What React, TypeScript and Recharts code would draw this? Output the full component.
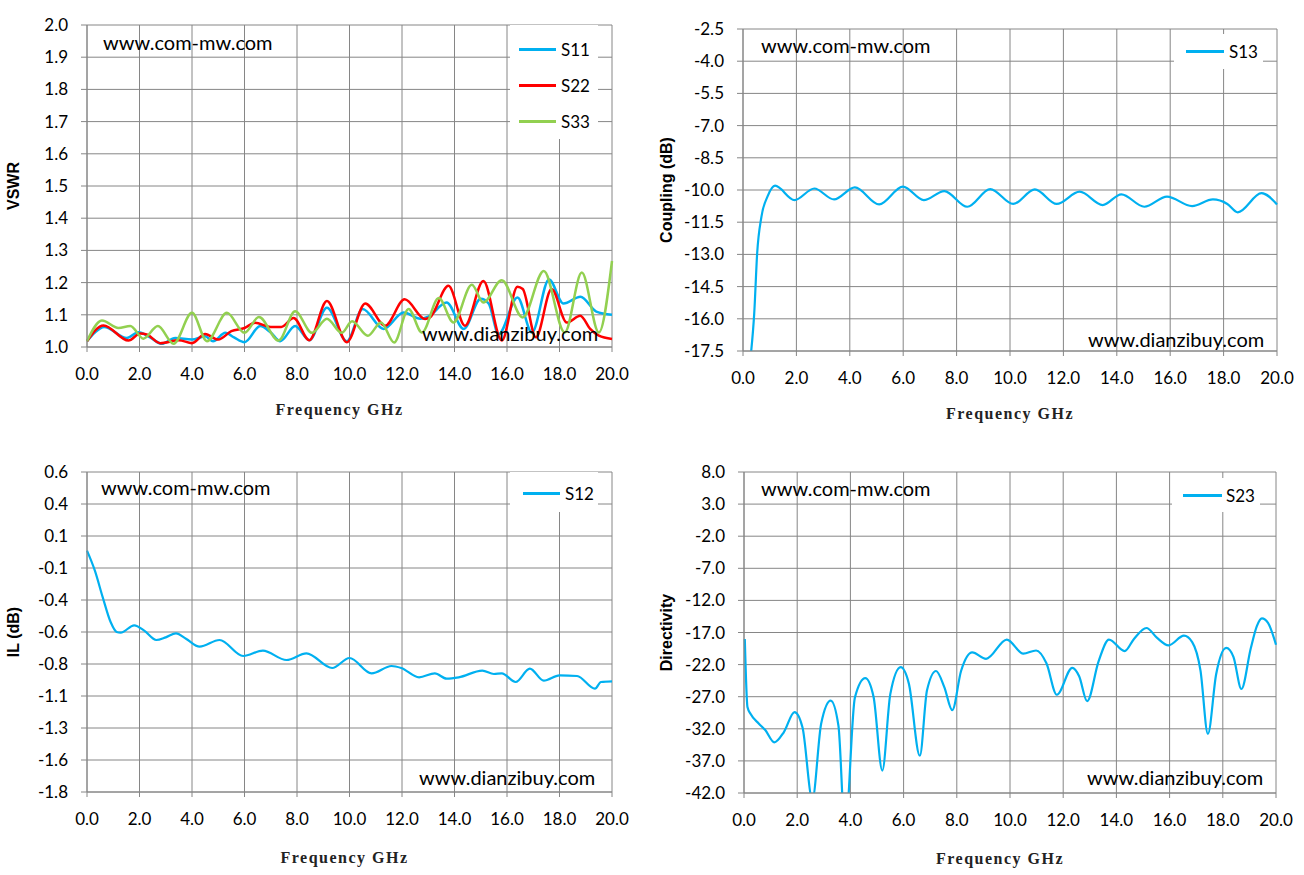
import React from "react";
import { LineChart, Line, XAxis, YAxis, CartesianGrid, Legend, Label } from "recharts";

const FONT = "Lato, 'Liberation Sans', Arial, sans-serif";
const GRID = "#868686";
const BLUE = "#00B0F0";
const RED = "#FF0000";
const GREEN = "#92D050";

// shared axis ticks
const freqTicks = [0, 2, 4, 6, 8, 10, 12, 14, 16, 18, 20];
const vswrTicks = [1.0, 1.1, 1.2, 1.3, 1.4, 1.5, 1.6, 1.7, 1.8, 1.9, 2.0];
const couplingTicks = [-17.5, -16, -14.5, -13, -11.5, -10, -8.5, -7, -5.5, -4, -2.5];
const ilTicks = [-1.8, -1.56, -1.32, -1.08, -0.84, -0.6, -0.36, -0.12, 0.12, 0.36, 0.6];
const dirTicks = [-42, -37, -32, -27, -22, -17, -12, -7, -2, 3, 8];

// S11 VSWR
const s11Freq = [0, 0.3, 0.65, 1.52, 1.96, 2.4, 2.85, 3.36, 4.0, 4.5, 4.8, 5.27, 5.6, 6.0, 6.6, 7.0, 7.36, 7.93, 8.47, 9.14, 9.9, 10.5, 11.3, 12.06, 12.7, 13.0, 13.7, 14.35, 15.0, 15.3, 15.68, 16.4, 16.95, 17.6, 18.15, 18.8, 19.4, 20.0];
const s11Vswr = [1.018, 1.045, 1.062, 1.028, 1.046, 1.03, 1.01, 1.028, 1.023, 1.033, 1.018, 1.044, 1.03, 1.015, 1.065, 1.045, 1.018, 1.065, 1.021, 1.122, 1.018, 1.118, 1.056, 1.107, 1.088, 1.094, 1.138, 1.056, 1.15, 1.135, 1.04, 1.154, 1.045, 1.21, 1.135, 1.156, 1.11, 1.1];

// S22 VSWR
const s22Freq = [0, 0.63, 1.58, 2.03, 2.3, 2.79, 3.5, 4.0, 4.5, 5.0, 5.5, 6.0, 6.4, 7.0, 7.4, 7.87, 8.47, 9.14, 9.9, 10.6, 11.36, 12.1, 12.88, 13.07, 13.77, 14.4, 15.1, 15.8, 16.4, 16.6, 17.1, 17.7, 18.28, 18.79, 19.17, 19.5, 20.0];
const s22Vswr = [1.018, 1.067, 1.02, 1.042, 1.038, 1.012, 1.021, 1.012, 1.04, 1.023, 1.049, 1.059, 1.075, 1.062, 1.062, 1.09, 1.021, 1.143, 1.015, 1.135, 1.066, 1.148, 1.087, 1.092, 1.19, 1.066, 1.205, 1.02, 1.187, 1.18, 1.03, 1.18, 1.076, 1.097, 1.056, 1.035, 1.025];

// S33 VSWR
const s33Freq = [0, 0.57, 1.2, 1.65, 2.15, 2.7, 3.3, 4.0, 4.57, 5.33, 6.0, 6.55, 7.3, 7.93, 8.57, 9.14, 9.7, 10.1, 10.7, 11.2, 11.7, 12.25, 12.76, 13.4, 13.96, 14.66, 15.1, 15.8, 16.6, 17.4, 18.2, 18.85, 19.5, 20.0];
const s33Vswr = [1.018, 1.082, 1.059, 1.065, 1.026, 1.065, 1.01, 1.106, 1.018, 1.106, 1.044, 1.093, 1.02, 1.111, 1.044, 1.088, 1.044, 1.08, 1.035, 1.076, 1.014, 1.118, 1.045, 1.152, 1.076, 1.193, 1.138, 1.207, 1.092, 1.236, 1.045, 1.231, 1.045, 1.267];

// S13 coupling (dB)
const s13Freq = [0.3, 0.42, 0.53, 0.69, 0.92, 1.2, 1.93, 2.67, 3.41, 4.19, 5.1, 5.99, 6.77, 7.54, 8.4, 9.26, 10.12, 10.93, 11.75, 12.61, 13.47, 14.17, 15.03, 15.88, 16.82, 17.6, 18.14, 18.53, 19.42, 20.0];
const s13Db = [-17.6, -15.76, -12.96, -11.25, -10.3, -9.8, -10.47, -9.93, -10.44, -9.88, -10.67, -9.84, -10.47, -10.05, -10.78, -9.96, -10.65, -9.97, -10.65, -10.08, -10.7, -10.2, -10.78, -10.31, -10.75, -10.44, -10.65, -11.04, -10.15, -10.67];

// S12 insertion loss (dB)
const s12Freq = [0, 0.3, 0.6, 0.9, 1.13, 1.28, 1.8, 2.18, 2.64, 3.0, 3.39, 3.77, 4.29, 5.05, 5.95, 6.7, 7.6, 8.36, 9.34, 10.0, 10.84, 11.6, 11.97, 12.65, 13.25, 13.7, 14.16, 15.06, 15.5, 15.8, 16.33, 16.87, 17.4, 18.0, 18.67, 19.35, 19.58, 20.0];
const s12Db = [0.01, -0.14, -0.34, -0.525, -0.6, -0.605, -0.55, -0.59, -0.66, -0.64, -0.61, -0.65, -0.71, -0.66, -0.78, -0.74, -0.81, -0.76, -0.87, -0.795, -0.91, -0.855, -0.87, -0.94, -0.91, -0.95, -0.94, -0.89, -0.915, -0.91, -0.975, -0.875, -0.965, -0.925, -0.93, -1.025, -0.975, -0.97];

// S23 directivity (dB)
const s23Freq = [0.03, 0.13, 0.25, 0.56, 0.8, 1.14, 1.5, 1.9, 2.2, 2.57, 2.9, 3.26, 3.55, 3.8, 4.17, 4.56, 4.87, 5.2, 5.5, 5.89, 6.2, 6.61, 6.88, 7.22, 7.53, 7.83, 8.16, 8.58, 9.1, 9.88, 10.5, 10.98, 11.37, 11.76, 12.34, 12.6, 12.9, 13.33, 13.72, 14.31, 14.66, 15.13, 15.52, 15.96, 16.54, 16.85, 17.16, 17.44, 17.75, 18.13, 18.4, 18.7, 19.05, 19.28, 19.47, 19.7, 20.0];
const s23Db = [-18.0, -28.6, -29.7, -31.2, -32.2, -34.1, -32.5, -29.4, -31.8, -43, -31.2, -27.6, -31.5, -48, -27.1, -24.1, -27, -38.5, -26.6, -22.4, -25, -36.2, -26, -23.0, -25.5, -29.1, -23, -20.1, -21.1, -18.1, -20.3, -19.8, -21.8, -26.7, -22.5, -23.8, -27.7, -21.5, -18.1, -19.9, -18, -16.3, -17.8, -19.0, -17.5, -18.5, -22.9, -32.8, -23.5, -19.4, -20.8, -25.8, -19.5, -16, -14.8, -15.5, -18.9];

const toPoints = (fs: number[], vs: number[]) => fs.map((f, i) => ({ f, v: vs[i] }));

type Series = { name: string; color: string; freq: number[]; vals: number[]; width: number };

type LegendBox = { left: number; top: number; w: number; h: number; first: number; row: number; lx: number; lw: number; gap: number };

type PanelProps = {
  left: number;
  top: number;
  width: number;
  height: number;
  margin: { top: number; right: number; bottom: number; left: number };
  yWidth: number;
  yDomain: [number, number];
  yTicks: number[];
  yTitle: string;
  yTitleX: number;
  xTitleY: number;
  xTitleDx: number;
  series: Series[];
  legend: LegendBox;
  brand1: [number, number];
  brand2: [number, number];
};

function Watermark({ x, y, text }: { x: number; y: number; text: string }) {
  return (
    <div
      style={{
        position: "absolute",
        left: x,
        top: y - 13,
        height: 26,
        lineHeight: "26px",
        fontFamily: FONT,
        fontSize: 20,
        color: "#000",
        whiteSpace: "nowrap",
        pointerEvents: "none",
      }}
    >
      {text}
    </div>
  );
}

function Panel(p: PanelProps) {
  const lg = p.legend;
  return (
    <div style={{ position: "absolute", left: p.left, top: p.top, width: p.width, height: p.height }}>
      <LineChart width={p.width} height={p.height} margin={p.margin}>
        <CartesianGrid stroke={GRID} strokeWidth={1} />
        <XAxis
          type="number"
          dataKey="f"
          domain={[0, 20]}
          ticks={freqTicks}
          interval={0}
          height={70}
          stroke={GRID}
          tickSize={5}
          tickMargin={16}
          tickFormatter={(v: number) => v.toFixed(1)}
          tick={{ fill: "#000", fontSize: 17, fontFamily: FONT }}
        >
          <Label
            content={(lp: any) => {
              const vb = lp.viewBox;
              return (
                <text
                  x={vb.x + vb.width / 2 + p.xTitleDx}
                  y={vb.y + p.xTitleY}
                  textAnchor="middle"
                  dominantBaseline="central"
                  fontFamily="'Liberation Serif', 'DejaVu Serif', serif"
                  fontWeight="bold"
                  fontSize={16}
                  letterSpacing={1.5}
                  fill="#222"
                >
                  Frequency GHz
                </text>
              );
            }}
          />
        </XAxis>
        <YAxis
          type="number"
          domain={p.yDomain}
          ticks={p.yTicks}
          interval={0}
          allowDataOverflow
          width={p.yWidth}
          stroke={GRID}
          tickSize={6}
          tickMargin={13}
          tickFormatter={(v: number) => v.toFixed(1)}
          tick={{ fill: "#000", fontSize: 17, fontFamily: FONT }}
        >
          <Label
            content={(lp: any) => {
              const vb = lp.viewBox;
              const cx = vb.x + p.yTitleX;
              const cy = vb.y + vb.height / 2;
              return (
                <text
                  x={cx}
                  y={cy}
                  transform={`rotate(-90 ${cx} ${cy})`}
                  textAnchor="middle"
                  dominantBaseline="central"
                  fontFamily="'Liberation Sans', Arial, sans-serif"
                  fontWeight="bold"
                  fontSize={16}
                  fill="#000"
                >
                  {p.yTitle}
                </text>
              );
            }}
          />
        </YAxis>
        <Legend
          layout="vertical"
          align="center"
          verticalAlign="middle"
          wrapperStyle={{ left: lg.left, top: lg.top, width: lg.w, height: lg.h }}
          content={(lp: any) => (
            <div style={{ position: "relative", width: lg.w, height: lg.h, background: "#fff" }}>
              {(lp.payload || []).map((item: any, i: number) => (
                <div
                  key={item.value}
                  style={{
                    position: "absolute",
                    left: 0,
                    top: lg.first + i * lg.row - 12,
                    height: 24,
                    display: "flex",
                    alignItems: "center",
                  }}
                >
                  <span
                    style={{ display: "inline-block", marginLeft: lg.lx, width: lg.lw, height: 3, background: item.color }}
                  />
                  <span style={{ marginLeft: lg.gap, fontFamily: FONT, fontSize: 17, color: "#000" }}>{item.value}</span>
                </div>
              ))}
            </div>
          )}
        />
        {p.series.map((s) => (
          <Line
            key={s.name}
            name={s.name}
            data={toPoints(s.freq, s.vals)}
            dataKey="v"
            type="monotone"
            stroke={s.color}
            strokeWidth={s.width}
            dot={false}
            activeDot={false}
            isAnimationActive={false}
          />
        ))}
      </LineChart>
      <Watermark x={p.brand1[0]} y={p.brand1[1]} text="www.com-mw.com" />
      <Watermark x={p.brand2[0]} y={p.brand2[1]} text="www.dianzibuy.com" />
    </div>
  );
}

export default function App() {
  return (
    <div style={{ position: "absolute", left: 0, top: 0, width: 1304, height: 875, background: "#fff" }}>
      <Panel
        left={0}
        top={0}
        width={640}
        height={430}
        margin={{ top: 25, right: 28, bottom: 13, left: 0 }}
        yWidth={87}
        yDomain={[1, 2]}
        yTicks={vswrTicks}
        yTitle="VSWR"
        yTitleX={13}
        xTitleY={62}
        xTitleDx={-10}
        series={[
          { name: "S11", color: BLUE, freq: s11Freq, vals: s11Vswr, width: 2.5 },
          { name: "S22", color: RED, freq: s22Freq, vals: s22Vswr, width: 2.5 },
          { name: "S33", color: GREEN, freq: s33Freq, vals: s33Vswr, width: 2.5 },
        ]}
        legend={{ left: 510, top: 25, w: 88, h: 114, first: 24, row: 36, lx: 9, lw: 37, gap: 5 }}
        brand1={[103, 42]}
        brand2={[422, 333]}
      />
      <Panel
        left={650}
        top={0}
        width={654}
        height={430}
        margin={{ top: 29, right: 27, bottom: 9, left: 0 }}
        yWidth={93}
        yDomain={[-17.5, -2.5]}
        yTicks={couplingTicks}
        yTitle="Coupling (dB)"
        yTitleX={16}
        xTitleY={62}
        xTitleDx={0}
        series={[{ name: "S13", color: BLUE, freq: s13Freq, vals: s13Db, width: 2.2 }]}
        legend={{ left: 524, top: 34, w: 89, h: 35, first: 17, row: 36, lx: 12, lw: 38, gap: 5 }}
        brand1={[111, 45]}
        brand2={[438, 339]}
      />
      <Panel
        left={0}
        top={440}
        width={640}
        height={435}
        margin={{ top: 32, right: 28, bottom: 13, left: 0 }}
        yWidth={87}
        yDomain={[-1.8, 0.6]}
        yTicks={ilTicks}
        yTitle="IL (dB)"
        yTitleX={13}
        xTitleY={65}
        xTitleDx={-5}
        series={[{ name: "S12", color: BLUE, freq: s12Freq, vals: s12Db, width: 2.2 }]}
        legend={{ left: 510, top: 32, w: 88, h: 40, first: 21, row: 36, lx: 13, lw: 37, gap: 5 }}
        brand1={[101, 47]}
        brand2={[419, 337]}
      />
      <Panel
        left={650}
        top={440}
        width={654}
        height={435}
        margin={{ top: 32, right: 28, bottom: 12, left: 0 }}
        yWidth={94}
        yDomain={[-42, 8]}
        yTicks={dirTicks}
        yTitle="Directivity"
        yTitleX={16}
        xTitleY={65}
        xTitleDx={-10}
        series={[{ name: "S23", color: BLUE, freq: s23Freq, vals: s23Db, width: 2.2 }]}
        legend={{ left: 522, top: 38, w: 88, h: 34, first: 17, row: 36, lx: 11, lw: 39, gap: 4 }}
        brand1={[111, 48]}
        brand2={[437, 337]}
      />
    </div>
  );
}
